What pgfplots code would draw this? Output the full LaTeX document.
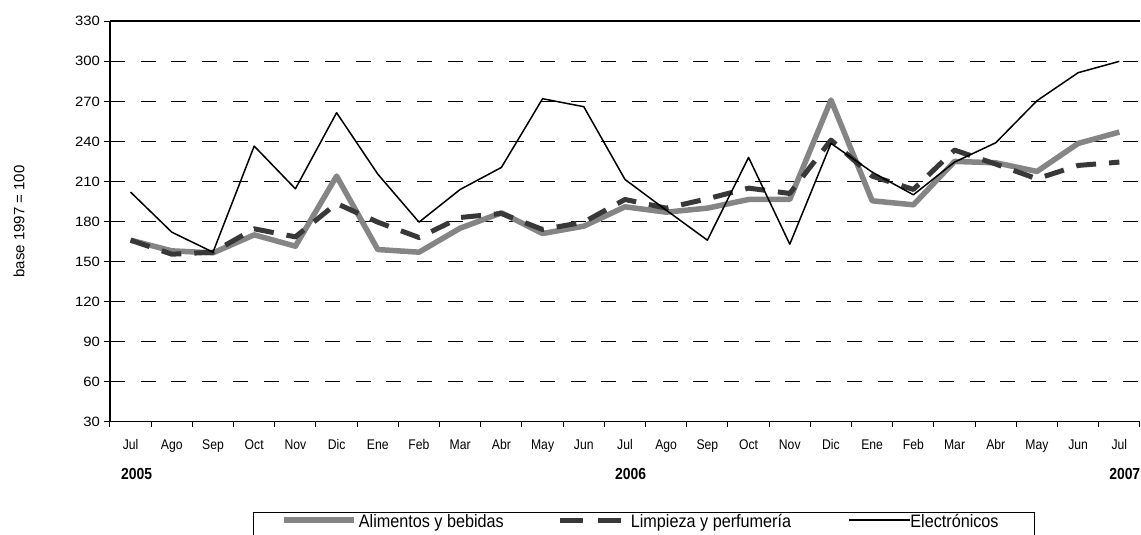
\documentclass[border=0pt]{standalone}
\usepackage{fontspec}
\usepackage{pgfplots}
\usepackage{pgfplotstable}
\pgfplotsset{compat=1.18}
\setmainfont{Liberation Sans}[FakeStretch=0.87]
\newfontfamily\legfont{Liberation Sans}[FakeStretch=0.9]
\newfontfamily\yfont{Liberation Sans}[FakeStretch=1.1]
\newfontfamily\ylabfont{Liberation Sans}
\definecolor{aligray}{HTML}{858585}
\definecolor{limgray}{HTML}{383838}

\pgfplotsset{
  imgA/.style={legend image code/.code={\draw[##1] (0pt,6.3pt) -- (70pt,6.3pt);}},
  imgB/.style={legend image code/.code={\draw[##1, dash pattern=on 23pt off 15pt] (0pt,6.3pt) -- (65pt,6.3pt);}},
  imgC/.style={legend image code/.code={\draw[##1] (0pt,6.3pt) -- (61pt,6.3pt);}},
}

\pgfplotstableread{
idx ali lim ele
0 166 166 202
1 158 155.5 172
2 156.5 157 157
3 170 174.5 236.5
4 161.5 168.5 204.5
5 214 193.5 261.5
6 159 179.5 215.5
7 157 168 179.5
8 175 183 204
9 186.5 186 220.5
10 171 174 272
11 176.5 179.5 266
12 191 196.5 211.5
13 187 190 188.5
14 190 197 166
15 196.5 205 228
16 196.5 201 163
17 271 241 238.5
18 195.5 214 217
19 192.5 204 200
20 225 233.5 224.5
21 224 223 239
22 217.5 212 270.5
23 238.5 222 291.5
24 247 224.5 300
}\datatable

\begin{document}
\begin{tikzpicture}
\useasboundingbox (0,0) rectangle (1141pt,535pt);
\begin{axis}[
  at={(110pt,113.3pt)}, anchor=south west,
  scale only axis, width=1030pt, height=400.4pt,
  xmin=-0.5, xmax=24.5, ymin=30, ymax=330,
  axis x line*=box, axis y line*=left,
  axis line style={line width=1.6pt, black},
  xtick={0,...,24},
  xticklabels={Jul,Ago,Sep,Oct,Nov,Dic,Ene,Feb,Mar,Abr,May,Jun,Jul,Ago,Sep,Oct,Nov,Dic,Ene,Feb,Mar,Abr,May,Jun,Jul},
  minor xtick={-0.5,0.5,...,24.5},
  xtick pos=bottom, ytick pos=left,
  tick align=outside,
  major x tick style={draw=none},
  minor tick length=5pt,
  minor x tick style={line width=1pt, black},
  ytick={30,60,...,330},
  major tick length=6pt,
  major y tick style={line width=1pt, black},
  ymajorgrids,
  major grid style={line width=0.9pt, black, dash pattern=on 15pt off 15.7pt},
  /pgf/number format/assume math mode=true,
  xticklabel style={font=\fontsize{14}{16}\selectfont, anchor=base, yshift=-22pt},
  yticklabel style={font=\yfont\fontsize{13.5}{16}\selectfont, anchor=east, inner sep=0pt, xshift=-4pt},
  ylabel={base 1997 = 100},
  ylabel style={font=\ylabfont\fontsize{15}{17}\selectfont, at={(axis description cs:-0.0883,0.5)}, anchor=center},
  legend columns=3,
  legend style={at={(axis description cs:0.1388,-0.2255)}, anchor=north west,
    draw=black, line width=0.8pt, inner xsep=28pt, inner ysep=5pt,
    font=\legfont\fontsize{18}{20}\selectfont,
    column sep=0pt,
    nodes={inner sep=0pt, text depth=0.5em, text height=0.72em},
    cells={anchor=west}},
  clip=false,
]
\addplot[aligray, line width=5.5pt, line join=round, imgA]
  table[x=idx, y=ali] {\datatable};
\addlegendentry{\makebox[201pt][l]{\hspace{2pt}Alimentos y bebidas}}
\addplot[limgray, line width=5pt, line join=round, dash pattern=on 20pt off 13pt, imgB]
  table[x=idx, y=lim] {\datatable};
\addlegendentry{\makebox[220pt][l]{\hspace{3pt}Limpieza y perfumería}}
\addplot[black, line width=1.5pt, line join=round, imgC]
  table[x=idx, y=ele] {\datatable};
\addlegendentry{\makebox[96pt][l]{Electrónicos}}
\node[anchor=base west, font=\bfseries\fontsize{16}{18}\selectfont, inner sep=0pt] at ([yshift=-57.6pt]axis cs:-0.233,30) {2005};
\node[anchor=base west, font=\bfseries\fontsize{16}{18}\selectfont, inner sep=0pt] at ([yshift=-57.6pt]axis cs:11.757,30) {2006};
\node[anchor=base west, font=\bfseries\fontsize{16}{18}\selectfont, inner sep=0pt] at ([yshift=-57.6pt]axis cs:23.75,30) {2007};
\end{axis}
\end{tikzpicture}
\end{document}
